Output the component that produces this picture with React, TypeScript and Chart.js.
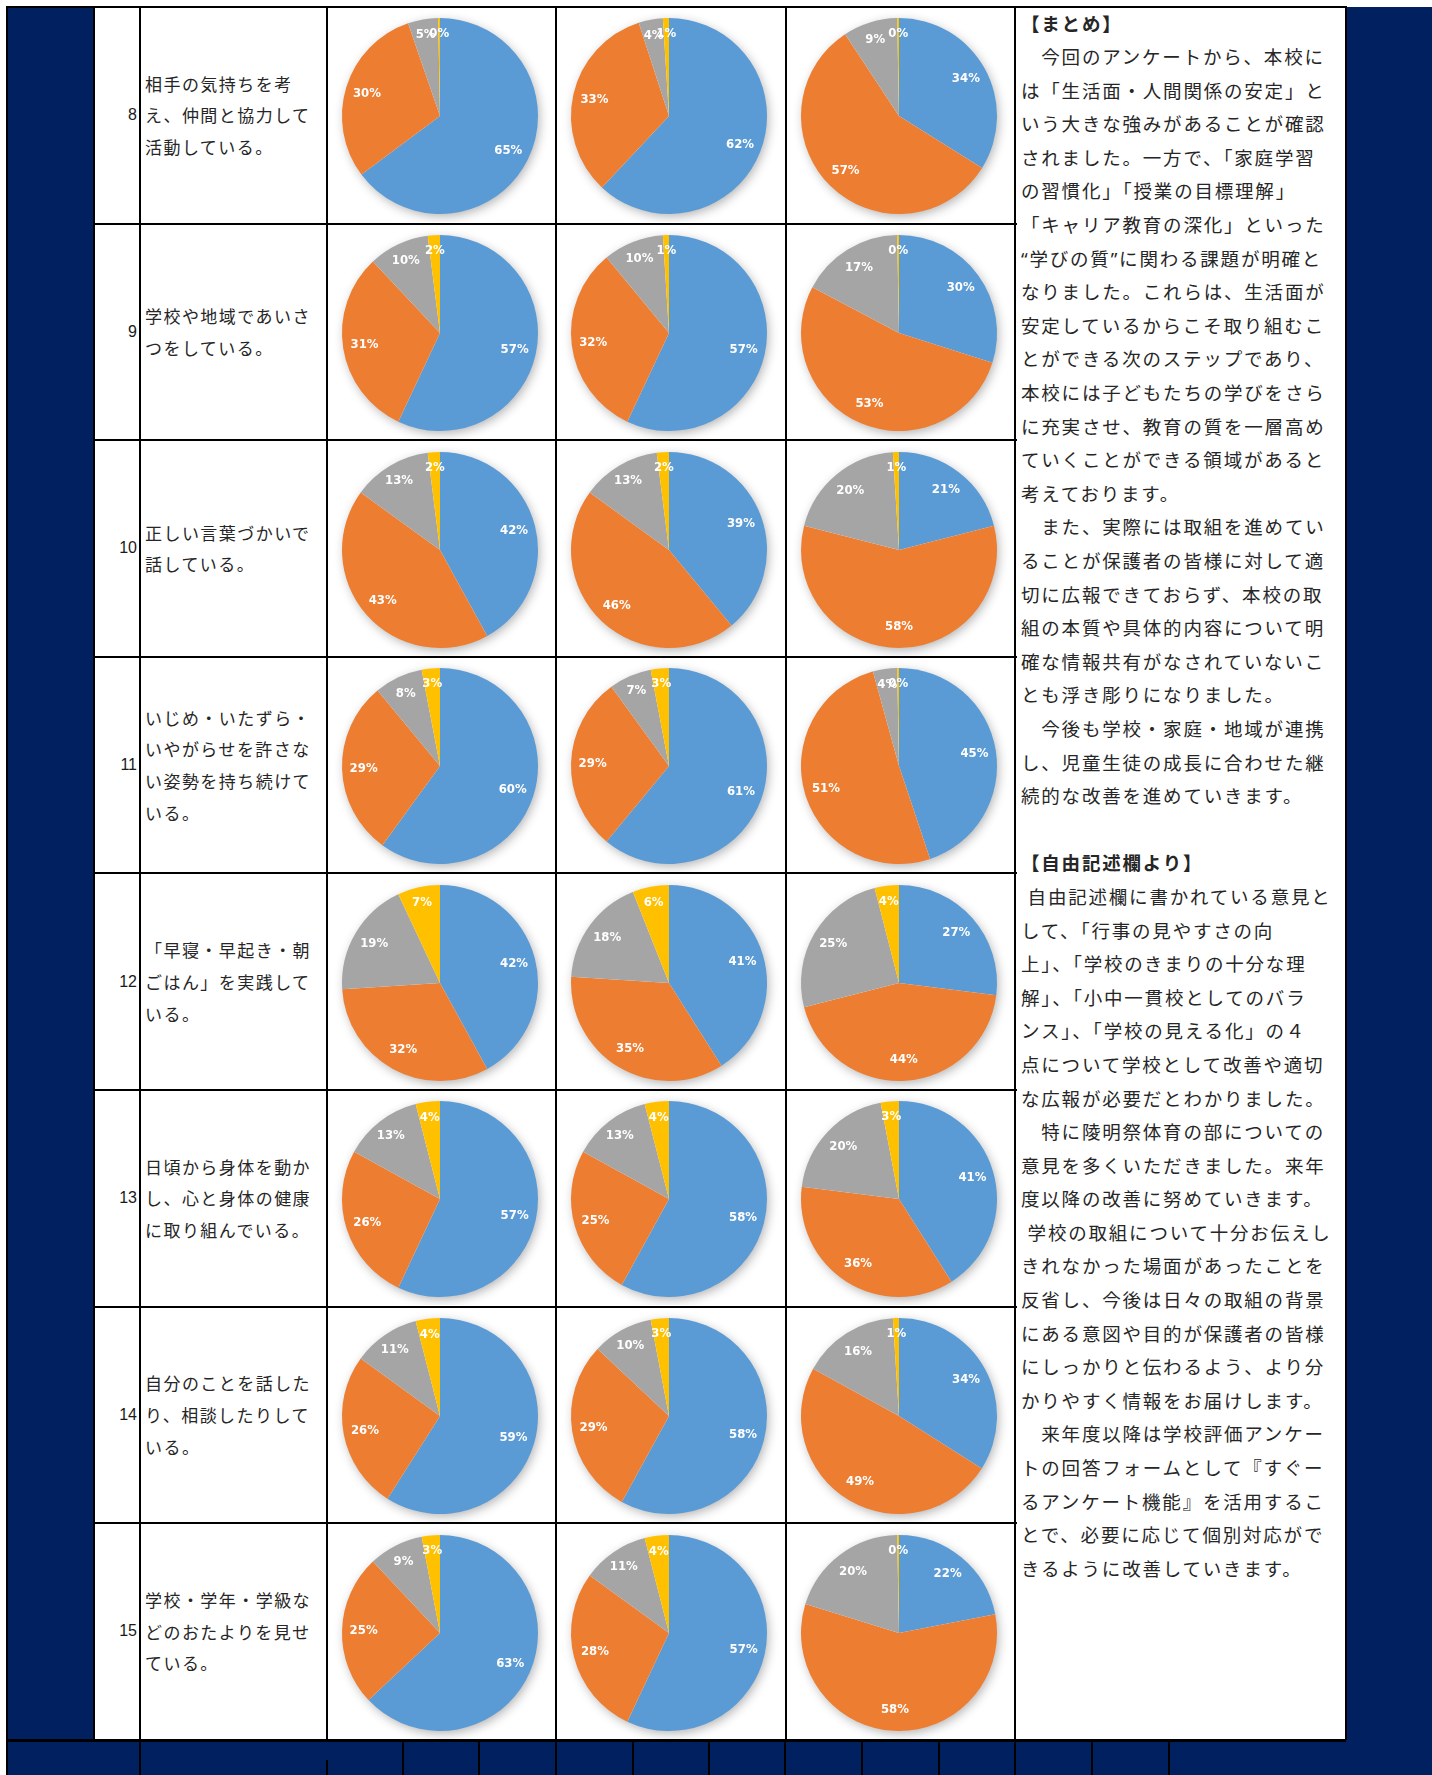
import React, { useEffect, useRef } from "react";
import { Chart, registerables } from "chart.js";

Chart.register(...registerables);

// ---------------- data ----------------
const questionNumbers = [8, 9, 10, 11, 12, 13, 14, 15];

const questionLines: string[][] = [
  ["相手の気持ちを考", "え、仲間と協力して", "活動している。"],
  ["学校や地域であいさ", "つをしている。"],
  ["正しい言葉づかいで", "話している。"],
  ["いじめ・いたずら・", "いやがらせを許さな", "い姿勢を持ち続けて", "いる。"],
  ["「早寝・早起き・朝", "ごはん」を実践して", "いる。"],
  ["日頃から身体を動か", "し、心と身体の健康", "に取り組んでいる。"],
  ["自分のことを話した", "り、相談したりして", "いる。"],
  ["学校・学年・学級な", "どのおたよりを見せ", "ている。"],
];

const sliceLabels = ["よくあてはまる", "ややあてはまる", "あまりあてはまらない", "あてはまらない"];
const sliceColors = ["#5B9BD5", "#ED7D31", "#A5A5A5", "#FFC000"];

// values per question row: [blue, orange, gray, yellow]
const groupAValues: number[][] = [
  [65, 30, 5, 0.3],
  [57, 31, 10, 2],
  [42, 43, 13, 2],
  [60, 29, 8, 3],
  [42, 32, 19, 7],
  [57, 26, 13, 4],
  [59, 26, 11, 4],
  [63, 25, 9, 3],
];
const groupBValues: number[][] = [
  [62, 33, 4, 1],
  [57, 32, 10, 1],
  [39, 46, 13, 2],
  [61, 29, 7, 3],
  [41, 35, 18, 6],
  [58, 25, 13, 4],
  [58, 29, 10, 3],
  [57, 28, 11, 4],
];
const groupCValues: number[][] = [
  [34, 57, 9, 0.3],
  [30, 53, 17, 0.3],
  [21, 58, 20, 1],
  [45, 51, 4, 0.3],
  [27, 44, 25, 4],
  [41, 36, 20, 3],
  [34, 49, 16, 1],
  [22, 58, 20, 0.3],
];

const summaryLines: string[] = [
  "【まとめ】",
  "　今回のアンケートから、本校に",
  "は「生活面・人間関係の安定」と",
  "いう大きな強みがあることが確認",
  "されました。一方で、「家庭学習",
  "の習慣化」「授業の目標理解」",
  "「キャリア教育の深化」といった",
  "“学びの質”に関わる課題が明確と",
  "なりました。これらは、生活面が",
  "安定しているからこそ取り組むこ",
  "とができる次のステップであり、",
  "本校には子どもたちの学びをさら",
  "に充実させ、教育の質を一層高め",
  "ていくことができる領域があると",
  "考えております。",
  "　また、実際には取組を進めてい",
  "ることが保護者の皆様に対して適",
  "切に広報できておらず、本校の取",
  "組の本質や具体的内容について明",
  "確な情報共有がなされていないこ",
  "とも浮き彫りになりました。",
  "　今後も学校・家庭・地域が連携",
  "し、児童生徒の成長に合わせた継",
  "続的な改善を進めていきます。",
  "",
  "【自由記述欄より】",
  " 自由記述欄に書かれている意見と",
  "して、「行事の見やすさの向",
  "上」、「学校のきまりの十分な理",
  "解」、「小中一貫校としてのバラ",
  "ンス」、「学校の見える化」の４",
  "点について学校として改善や適切",
  "な広報が必要だとわかりました。",
  "　特に陵明祭体育の部についての",
  "意見を多くいただきました。来年",
  "度以降の改善に努めていきます。",
  " 学校の取組について十分お伝えし",
  "きれなかった場面があったことを",
  "反省し、今後は日々の取組の背景",
  "にある意図や目的が保護者の皆様",
  "にしっかりと伝わるよう、より分",
  "かりやすく情報をお届けします。",
  "　来年度以降は学校評価アンケー",
  "トの回答フォームとして『すぐー",
  "るアンケート機能』を活用するこ",
  "とで、必要に応じて個別対応がで",
  "きるように改善していきます。",
];
const summaryHeadings = ["【まとめ】", "【自由記述欄より】"];

// ---------------- plugins ----------------
const shadowPlugin = {
  id: "pieShadow",
  beforeDatasetsDraw(chart: any) {
    const meta = chart.getDatasetMeta(0);
    const arc = meta.data[0];
    if (!arc) return;
    const p = arc.getProps(["x", "y", "outerRadius"], true);
    const ctx = chart.ctx as CanvasRenderingContext2D;
    ctx.save();
    ctx.shadowColor = "rgba(0,0,0,0.32)";
    ctx.shadowBlur = 11;
    ctx.shadowOffsetX = 2;
    ctx.shadowOffsetY = 3;
    ctx.beginPath();
    ctx.arc(p.x, p.y, p.outerRadius - 1, 0, Math.PI * 2);
    ctx.fillStyle = "#ffffff";
    ctx.fill();
    ctx.restore();
  },
};

const labelPlugin = {
  id: "pieLabels",
  afterDatasetsDraw(chart: any) {
    const ctx = chart.ctx as CanvasRenderingContext2D;
    const ds = chart.data.datasets[0];
    const meta = chart.getDatasetMeta(0);
    ctx.save();
    ctx.font =
      'bold 13px "Liberation Sans Narrow", "Arial Narrow", "DejaVu Sans Condensed", "Roboto Condensed", "Liberation Sans", sans-serif';
    ctx.fillStyle = "#ffffff";
    ctx.textAlign = "center";
    ctx.textBaseline = "middle";
    meta.data.forEach((el: any, i: number) => {
      const v = ds.data[i] as number;
      const p = el.getProps(["x", "y", "startAngle", "endAngle", "outerRadius"], true);
      const mid = (p.startAngle + p.endAngle) / 2;
      const f = v >= 15 ? 0.78 : v >= 8 ? 0.82 : 0.84;
      ctx.fillText(
        Math.round(v) + "%",
        p.x + Math.cos(mid) * p.outerRadius * f,
        p.y + Math.sin(mid) * p.outerRadius * f
      );
    });
    ctx.restore();
  },
};

// ---------------- components ----------------
const CW = 224;
const CH = 212;

function PieChart({ values, cx, cy }: { values: number[]; cx: number; cy: number }) {
  const ref = useRef<HTMLCanvasElement>(null);
  useEffect(() => {
    if (!ref.current) return;
    const chart = new Chart(ref.current, {
      type: "pie",
      data: {
        labels: sliceLabels,
        datasets: [
          {
            data: values,
            backgroundColor: sliceColors,
            borderWidth: 0,
            hoverOffset: 0,
            offset: 0,
          } as any,
        ],
      },
      options: {
        responsive: false,
        animation: false,
        events: [],
        layout: { padding: { left: 14, right: 14, top: 8, bottom: 8 } },
        plugins: { legend: { display: false }, tooltip: { enabled: false } },
      },
      plugins: [shadowPlugin as any, labelPlugin as any],
    });
    return () => chart.destroy();
  }, [values]);
  return (
    <canvas
      ref={ref}
      width={CW}
      height={CH}
      style={{ position: "absolute", left: cx - CW / 2, top: cy - CH / 2, width: CW, height: CH }}
    />
  );
}

const NAVY = "#002060";
const TEXT = "#262626";
const JP = '"Noto Sans CJK JP", "Noto Sans CJK SC", sans-serif';

export default function App() {
  const top0 = 7;
  const rowH = 216.6;
  const colX = [94, 140, 327, 556, 786, 1015, 1346];
  const tableBottom = top0 + rowH * 8;
  const groups = [groupAValues, groupBValues, groupCValues];

  const lines: React.ReactNode[] = [];
  // horizontal lines
  for (let i = 0; i <= 8; i++) {
    const y = top0 + rowH * i;
    const full = i === 0 || i === 8;
    lines.push(
      <div
        key={"h" + i}
        style={{
          position: "absolute",
          left: full ? 7 : colX[0],
          top: y - 1,
          width: (full ? 1346 : colX[5] + 2) - (full ? 7 : colX[0]),
          height: i === 8 ? 3 : 2,
          background: "#000",
        }}
      />
    );
  }
  // vertical lines
  colX.forEach((x, i) => {
    lines.push(
      <div
        key={"v" + i}
        style={{ position: "absolute", left: x - 1, top: top0 - 1, width: 2, height: tableBottom - top0 + 1, background: "#000" }}
      />
    );
  });
  lines.push(
    <div key="vl" style={{ position: "absolute", left: 6, top: top0 - 1, width: 2, height: 1775, background: "#000" }} />
  );
  // bottom navy row separators
  const bottomX = [140, 403, 479, 556, 633, 709, 785, 862, 939, 1015, 1092, 1169];
  bottomX.forEach((x, i) => {
    lines.push(
      <div key={"b" + i} style={{ position: "absolute", left: x - 1, top: tableBottom, width: 2, height: 1775 - tableBottom, background: "#000" }} />
    );
  });
  lines.push(
    <div key="b327" style={{ position: "absolute", left: 326, top: 1760, width: 2, height: 15, background: "#000" }} />
  );

  return (
    <div
      style={{
        position: "absolute",
        left: 0,
        top: 0,
        width: 1432,
        height: 1775,
        background: "#fff",
        overflow: "hidden",
        fontFamily: JP,
        color: TEXT,
      }}
    >
      {/* navy areas */}
      <div style={{ position: "absolute", left: 7, top: top0, width: colX[0] - 7, height: 1775 - top0, background: NAVY }} />
      <div style={{ position: "absolute", left: colX[6], top: top0, width: 1432 - colX[6], height: 1775 - top0, background: NAVY }} />
      <div style={{ position: "absolute", left: colX[0], top: tableBottom, width: colX[6] - colX[0], height: 1775 - tableBottom, background: NAVY }} />

      {questionNumbers.map((n, i) => {
        const rt = top0 + rowH * i;
        return (
          <React.Fragment key={n}>
            <div
              style={{
                position: "absolute",
                left: colX[0] + 2,
                top: rt,
                width: colX[1] - colX[0] - 5,
                height: rowH,
                display: "flex",
                alignItems: "center",
                justifyContent: "flex-end",
                fontFamily: '"Liberation Sans Narrow", "Arial Narrow", "Liberation Sans", sans-serif',
                fontSize: 16,
                color: "#1a1a1a",
              }}
            >
              {n}
            </div>
            <div
              style={{
                position: "absolute",
                left: colX[1] + 5,
                top: rt,
                width: colX[2] - colX[1] - 6,
                height: rowH,
                display: "flex",
                alignItems: "center",
              }}
            >
              <div style={{ fontSize: 17, letterSpacing: 1.45, lineHeight: "31.7px", whiteSpace: "nowrap" }}>
                {questionLines[i].map((l, k) => (
                  <div key={k}>{l}</div>
                ))}
              </div>
            </div>
            {groups.map((g, c) => (
              <PieChart
                key={c}
                values={g[i]}
                cx={(colX[2 + c] + colX[3 + c]) / 2 - 2}
                cy={rt + rowH / 2 + 1}
              />
            ))}
          </React.Fragment>
        );
      })}

      {/* summary text */}
      <div
        style={{
          position: "absolute",
          left: colX[5] + 6,
          top: 6.5,
          width: colX[6] - colX[5] - 8,
          fontFamily: '"Noto Sans", "Noto Sans CJK JP", sans-serif',
          fontSize: 18.5,
          letterSpacing: 1.8,
          lineHeight: "33.6px",
          whiteSpace: "pre",
        }}
      >
        {summaryLines.map((l, k) => (
          <div key={k} style={{ height: 33.6, fontWeight: summaryHeadings.includes(l) ? 700 : 400 }}>
            {l}
          </div>
        ))}
      </div>

      {lines}
    </div>
  );
}
